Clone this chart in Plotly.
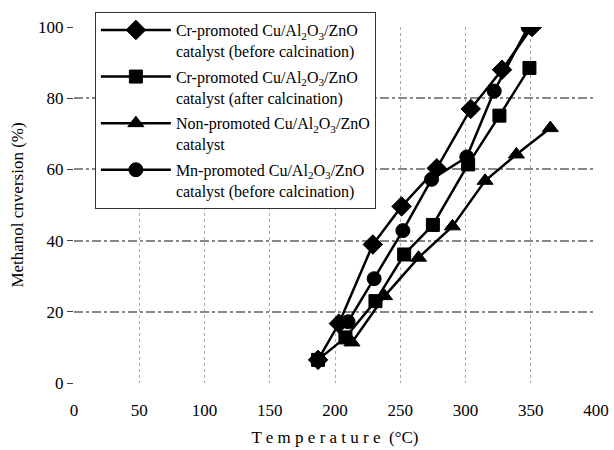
import plotly.graph_objects as go

# Temperatures (°C) and methanol conversion (%)
cr_before_T = [187, 203, 229, 251, 278, 304, 328, 351]
cr_before_X = [6.5, 16.7, 38.9, 49.6, 60.3, 77.0, 88.0, 100.0]

cr_after_T = [187, 208, 231, 253, 275, 302, 326, 349]
cr_after_X = [6.5, 12.8, 23.0, 36.1, 44.4, 61.4, 75.1, 88.5]

non_T = [213, 238, 264, 290, 315, 339, 365]
non_X = [11.4, 24.4, 35.2, 44.0, 56.8, 64.2, 71.6]

mn_T = [210, 230, 252, 274, 301, 322, 348]
mn_X = [17.2, 29.3, 42.8, 57.2, 63.5, 82.0, 100.0]

names = [
    "Cr-promoted Cu/Al<sub>2</sub>O<sub>3</sub>/ZnO<br>catalyst (before calcination)",
    "Cr-promoted Cu/Al<sub>2</sub>O<sub>3</sub>/ZnO<br>catalyst (after calcination)",
    "Non-promoted Cu/Al<sub>2</sub>O<sub>3</sub>/ZnO<br>catalyst",
    "Mn-promoted Cu/Al<sub>2</sub>O<sub>3</sub>/ZnO<br>catalyst (before calcination)",
]
symbols = ["diamond", "square", "triangle-up", "circle"]
sizes = [15, 13, 14, 14]
xs = [cr_before_T, cr_after_T, non_T, mn_T]
ys = [cr_before_X, cr_after_X, non_X, mn_X]

fig = go.Figure()
for i in range(4):
    fig.add_trace(go.Scatter(
        x=xs[i], y=ys[i], mode="lines+markers", name=names[i],
        legendgroup=f"g{i}",
        line=dict(color="black", width=2.5),
        marker=dict(symbol=symbols[i], size=sizes[i], color="black",
                    line=dict(color="black", width=1)),
    ))

font_family = "Liberation Serif, Times New Roman, serif"
fig.update_layout(
    width=614, height=450,
    margin=dict(l=74, r=18, t=23, b=67),
    paper_bgcolor="white", plot_bgcolor="white",
    font=dict(family=font_family, color="black", size=17),
    showlegend=True,
    legend=dict(
        x=0.04, y=1.042, xanchor="left", yanchor="top",
        bgcolor="white", bordercolor="#333", borderwidth=1,
        font=dict(family=font_family, size=16, color="black"),
        itemwidth=70, valign="top", tracegroupgap=2,
    ),
    xaxis=dict(
        range=[0, 400], dtick=50, tick0=0, automargin=False,
        showgrid=True, gridcolor="#aaa", griddash="dot", gridwidth=1,
        zeroline=False, showline=False,
        ticks="", tickfont=dict(size=17), ticklabelstandoff=15,
        title=dict(text="T e m p e r a t u r e  (°C)", font=dict(size=17), standoff=12),
    ),
    yaxis=dict(
        range=[0, 100], dtick=20, automargin=False,
        showgrid=True, gridcolor="#888", griddash="dashdot", gridwidth=1.5,
        zeroline=False, showline=False,
        ticks="outside", ticklen=6, tickcolor="#444",
        tickfont=dict(size=17),
        title=dict(text="Methanol cnversion (%)", font=dict(size=17), standoff=10),
    ),
)

fig.write_html("out.html")
